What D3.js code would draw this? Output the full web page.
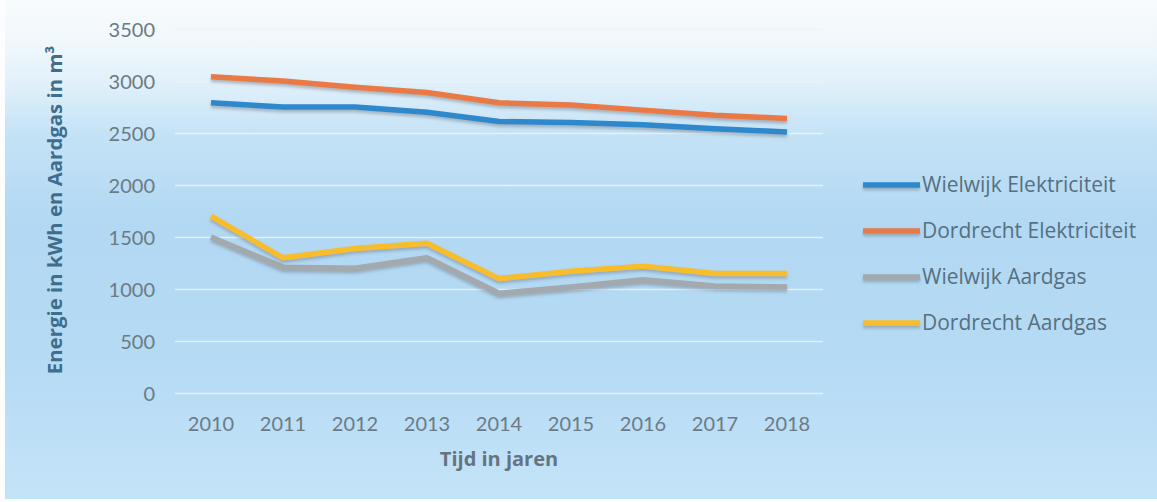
<!DOCTYPE html>
<html><head><meta charset="utf-8">
<script src="https://cdn.jsdelivr.net/npm/d3@7"></script>
<style>html,body{margin:0;padding:0;background:#fff;}svg{display:block;}</style>
</head><body>
<script>
const years = ["2010","2011","2012","2013","2014","2015","2016","2017","2018"];
const seriesNames = ["Wielwijk Elektriciteit","Dordrecht Elektriciteit","Wielwijk Aardgas","Dordrecht Aardgas"];
const wielwijkElek = [2790,2750,2750,2700,2610,2600,2580,2540,2510];
const dordrechtElek = [3040,3000,2940,2890,2790,2770,2720,2670,2640];
const wielwijkGas = [1500,1210,1200,1300,960,1020,1090,1030,1020];
const dordrechtGas = [1700,1300,1390,1440,1100,1170,1220,1150,1150];
const yTicks = [0,500,1000,1500,2000,2500,3000,3500];
const colors = ["#2d88cc","#ea7a44","#a3a9ad","#f8bd2a"];
const seriesValues = [wielwijkElek, dordrechtElek, wielwijkGas, dordrechtGas];

const W = 1157, H = 502;
const svg = d3.select("body").append("svg").attr("width", W).attr("height", H);
const defs = svg.append("defs");
const bg = defs.append("linearGradient").attr("id","bg").attr("x1",0).attr("y1",0).attr("x2",0).attr("y2",1);
[[0,"#f7fbfd"],[0.08,"#f1f8fb"],[0.17,"#e0f0fa"],[0.27,"#c4e2f6"],[0.45,"#b2d8f3"],[0.7,"#b4daf4"],[1,"#c4e3f8"]]
  .forEach(([o,c]) => bg.append("stop").attr("offset",o).attr("stop-color",c));
const sh = defs.append("filter").attr("id","sh").attr("filterUnits","userSpaceOnUse")
  .attr("x",0).attr("y",0).attr("width",W).attr("height",H);
sh.append("feDropShadow").attr("dx",0).attr("dy",2.5).attr("stdDeviation",1.5).attr("flood-color","#7a8590").attr("flood-opacity",0.55);

svg.append("rect").attr("width",W).attr("height",H).attr("fill","#fbfdfe");
svg.append("rect").attr("x",5).attr("y",0).attr("width",W-5).attr("height",H-3).attr("fill","url(#bg)");

const x = d3.scaleBand().domain(years).range([175, 823]);
const y = d3.scaleLinear().domain([0,3500]).range([393, 29]);

const font = "Lato, 'Open Sans', sans-serif";
const font2 = "'Open Sans', Lato, sans-serif";

// gridlines
const gy = svg.append("g").attr("transform","translate(175,0)")
  .call(d3.axisLeft(y).tickValues(yTicks).tickSize(-(823-175)).tickFormat(""));
gy.select(".domain").remove();
gy.selectAll(".tick line").attr("stroke","#e9f4fb").attr("stroke-width",1.5).attr("stroke-opacity",0.85);

// y tick labels
const ya = svg.append("g").attr("transform","translate(163,0)")
  .call(d3.axisLeft(y).tickValues(yTicks).tickSize(0).tickPadding(8).tickFormat(d3.format("d")));
ya.select(".domain").remove();
ya.selectAll("text").attr("font-family",font).attr("font-size",20).attr("fill","#6c7a84").attr("dy","0.35em");

// x tick labels
const xa = svg.append("g").attr("transform","translate(0,393)")
  .call(d3.axisBottom(x).tickSize(0).tickPadding(24));
xa.select(".domain").remove();
xa.selectAll("text").attr("font-family",font).attr("font-size",20).attr("fill","#6c7a84").attr("dy","0.72em");

// axis titles
svg.append("text").attr("x",499).attr("y",466).attr("text-anchor","middle")
  .attr("font-family",font2).attr("font-weight","bold").attr("font-size",20).attr("fill","#65747e")
  .text("Tijd in jaren");
svg.append("text").attr("transform","translate(62,210) rotate(-90)").attr("text-anchor","middle")
  .attr("font-family",font2).attr("font-weight","bold").attr("font-size",20.4).attr("fill","#3f6e8c")
  .text("Energie in kWh en Aardgas in m³");

// lines
const line = d3.line().x((d,i) => x(years[i]) + x.bandwidth()/2).y(d => y(d));
const order = [2,3,0,1];
order.forEach(k => {
  svg.append("path").datum(seriesValues[k]).attr("d", line)
    .attr("fill","none").attr("stroke",colors[k]).attr("stroke-width",5.5)
    .attr("stroke-linejoin","round").attr("stroke-linecap","butt").attr("filter","url(#sh)");
});

// legend
const ly = d3.scalePoint().domain(seriesNames).range([185, 323]);
const lg = svg.append("g");
seriesNames.forEach((n,i) => {
  lg.append("line").attr("x1",863).attr("x2",920).attr("y1",ly(n)).attr("y2",ly(n))
    .attr("stroke",colors[i]).attr("stroke-width",5.5).attr("filter","url(#sh)");
  lg.append("text").attr("x",922).attr("y",ly(n)).attr("dy","0.35em")
    .attr("font-family",font2).attr("font-size",21).attr("fill","#56707f").text(n);
});
</script>
</body></html>
